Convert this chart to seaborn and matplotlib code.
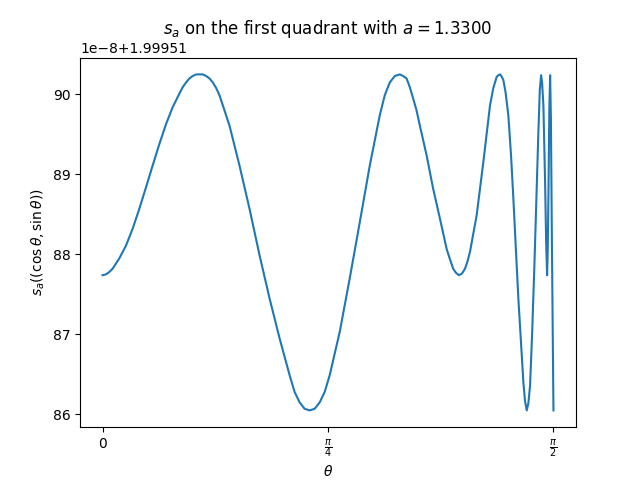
import numpy as np
import pandas as pd
import matplotlib
matplotlib.use("Agg")
import matplotlib.pyplot as plt
import seaborn as sns

# valores: theta (rad) y s_a en unidades de 1e-8 sobre 1.99951
theta = [0.0, 0.0119, 0.0234, 0.0349, 0.0583, 0.0817, 0.1047, 0.1281, 0.1515,
         0.1745, 0.1979, 0.2213, 0.2443, 0.2677, 0.2792, 0.2911, 0.3026, 0.3141,
         0.3260, 0.3375, 0.3490, 0.3609, 0.3724, 0.3839, 0.3958, 0.4073, 0.4248,
         0.4422, 0.4597, 0.4771, 0.5120, 0.5469, 0.5818, 0.6168, 0.6517, 0.6691,
         0.6866, 0.7040, 0.7215, 0.7389, 0.7564, 0.7738, 0.7913, 0.8262, 0.8611,
         0.8960, 0.9309, 0.9658, 0.9832, 1.0007, 1.0182, 1.0356, 1.0471, 1.0590,
         1.0705, 1.0820, 1.0939, 1.1054, 1.1288, 1.1518, 1.1752, 1.1986, 1.2101,
         1.2216, 1.2311, 1.2415, 1.2520, 1.2625, 1.2712, 1.2799, 1.3033, 1.3264,
         1.3497, 1.3613, 1.3731, 1.3787, 1.3846, 1.3893, 1.3962, 1.4038, 1.4136,
         1.4230, 1.4311, 1.4485, 1.4579, 1.4660, 1.4717, 1.4778, 1.4834, 1.4893,
         1.4963, 1.5044, 1.5183, 1.5232, 1.5277, 1.5312, 1.5358, 1.5417, 1.5452,
         1.5487, 1.5508, 1.5532, 1.5564, 1.5592, 1.5620, 1.5651, 1.5708]
s_offset = [87.74, 87.75, 87.78, 87.82, 87.95, 88.11, 88.32, 88.57, 88.84,
            89.11, 89.38, 89.63, 89.84, 90.01, 90.09, 90.15, 90.20, 90.23,
            90.25, 90.25, 90.25, 90.23, 90.20, 90.15, 90.08, 89.99, 89.80,
            89.61, 89.36, 89.11, 88.57, 87.99, 87.45, 86.95, 86.49, 86.28,
            86.15, 86.07, 86.05, 86.07, 86.15, 86.28, 86.49, 87.03, 87.70,
            88.40, 89.11, 89.74, 89.99, 90.15, 90.23, 90.25, 90.23, 90.20,
            90.09, 89.95, 89.80, 89.61, 89.24, 88.82, 88.45, 88.07, 87.94,
            87.82, 87.77, 87.74, 87.76, 87.82, 87.91, 88.03, 88.49, 89.15,
            89.86, 90.08, 90.22, 90.24, 90.25, 90.23, 90.18, 90.03, 89.74,
            89.24, 88.70, 87.45, 86.89, 86.40, 86.17, 86.05, 86.14, 86.36,
            86.99, 87.86, 89.53, 90.05, 90.24, 90.15, 89.86, 88.90, 88.18,
            87.74, 88.05, 88.70, 89.80, 90.24, 89.68, 88.28, 86.05]

df = pd.DataFrame({"theta": theta, "s": 1.99951 + np.array(s_offset) * 1e-8})

fig, ax = plt.subplots(figsize=(6.4, 4.8), dpi=100)
sns.lineplot(data=df, x="theta", y="s", ax=ax, sort=False, estimator=None,
             color="#1f77b4", linewidth=1.5)

ax.set_xticks([0, np.pi / 4, np.pi / 2])
ax.set_xticklabels(["0", r"$\frac{\pi}{4}$", r"$\frac{\pi}{2}$"])
ax.set_title(r"$s_a$ on the first quadrant with $a = 1.3300$")
ax.set_xlabel(r"$\theta$")
ax.set_ylabel(r"$s_a((\cos\theta, \sin\theta))$")

plt.savefig("out.png", dpi=100)
